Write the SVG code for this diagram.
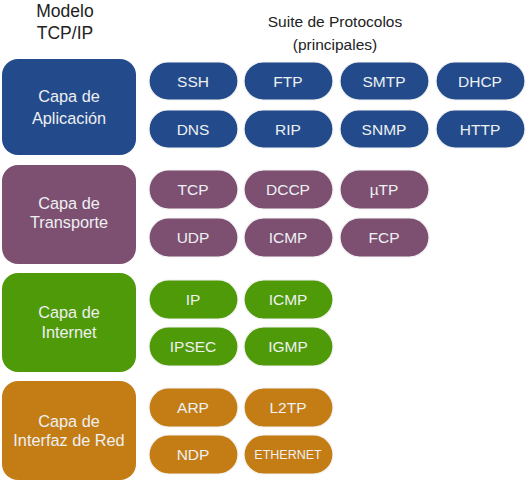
<svg xmlns="http://www.w3.org/2000/svg" width="531" height="480" viewBox="0 0 531 480">
<style>
text{font-family:"Liberation Sans",Arial,sans-serif;font-size:15.5px;text-anchor:middle}
.t{fill:#222}
.big{font-size:17.5px}
.box{font-size:16.3px}
.app{fill:#234b8b}
.tra{fill:#7d5072}
.int{fill:#4f9a08}
.red{fill:#c47d15}
.p{stroke:#f2f2f2;stroke-width:1.2}
.l{fill:#eef0f2}
</style>
<rect width="531" height="480" fill="#fff"/>
<g id="titles">
<text class="t big" x="65" y="17">Modelo</text>
<text class="t big" x="65" y="39">TCP/IP</text>
<text class="t" x="335" y="27">Suite de Protocolos</text>
<text class="t" x="335" y="50">(principales)</text>
</g>
<g id="layer-app">
<rect class="app" x="2" y="59" width="134" height="96" rx="16"/>
<text class="l box" x="69" y="102">Capa de</text>
<text class="l box" x="69" y="124">Aplicación</text>
</g>
<g id="layer-tra">
<rect class="tra" x="2" y="165" width="134" height="99" rx="16"/>
<text class="l box" x="69" y="209">Capa de</text>
<text class="l box" x="69" y="228">Transporte</text>
</g>
<g id="layer-int">
<rect class="int" x="2" y="273" width="134" height="99" rx="16"/>
<text class="l box" x="69" y="318">Capa de</text>
<text class="l box" x="69" y="338">Internet</text>
</g>
<g id="layer-red">
<rect class="red" x="2" y="381" width="134" height="99" rx="16"/>
<text class="l box" x="69" y="427">Capa de</text>
<text class="l box" x="69" y="446">Interfaz de Red</text>
</g>
<g id="p-ssh"><rect class="app p" x="149" y="62" width="89" height="38" rx="19"/><text class="l" x="193" y="87">SSH</text></g>
<g id="p-ftp"><rect class="app p" x="244" y="62" width="89" height="38" rx="19"/><text class="l" x="288" y="87">FTP</text></g>
<g id="p-smtp"><rect class="app p" x="340" y="62" width="89" height="38" rx="19"/><text class="l" x="384" y="87">SMTP</text></g>
<g id="p-dhcp"><rect class="app p" x="436" y="62" width="89" height="38" rx="19"/><text class="l" x="480" y="87">DHCP</text></g>
<g id="p-dns"><rect class="app p" x="149" y="110" width="89" height="38" rx="19"/><text class="l" x="193" y="135">DNS</text></g>
<g id="p-rip"><rect class="app p" x="244" y="110" width="89" height="38" rx="19"/><text class="l" x="288" y="135">RIP</text></g>
<g id="p-snmp"><rect class="app p" x="340" y="110" width="89" height="38" rx="19"/><text class="l" x="384" y="135">SNMP</text></g>
<g id="p-http"><rect class="app p" x="436" y="110" width="89" height="38" rx="19"/><text class="l" x="480" y="135">HTTP</text></g>
<g id="p-tcp"><rect class="tra p" x="149" y="170" width="89" height="39" rx="19.5"/><text class="l" x="193" y="195">TCP</text></g>
<g id="p-dccp"><rect class="tra p" x="244" y="170" width="89" height="39" rx="19.5"/><text class="l" x="288" y="195">DCCP</text></g>
<g id="p-utp"><rect class="tra p" x="340" y="170" width="89" height="39" rx="19.5"/><text class="l" x="384" y="195">µTP</text></g>
<g id="p-udp"><rect class="tra p" x="149" y="218" width="89" height="39" rx="19.5"/><text class="l" x="193" y="243">UDP</text></g>
<g id="p-icmp1"><rect class="tra p" x="244" y="218" width="89" height="39" rx="19.5"/><text class="l" x="288" y="243">ICMP</text></g>
<g id="p-fcp"><rect class="tra p" x="340" y="218" width="89" height="39" rx="19.5"/><text class="l" x="384" y="243">FCP</text></g>
<g id="p-ip"><rect class="int p" x="149" y="280" width="89" height="39" rx="19.5"/><text class="l" x="193" y="305">IP</text></g>
<g id="p-icmp2"><rect class="int p" x="244" y="280" width="89" height="39" rx="19.5"/><text class="l" x="288" y="305">ICMP</text></g>
<g id="p-ipsec"><rect class="int p" x="149" y="327" width="89" height="39" rx="19.5"/><text class="l" x="193" y="352">IPSEC</text></g>
<g id="p-igmp"><rect class="int p" x="244" y="327" width="89" height="39" rx="19.5"/><text class="l" x="288" y="352">IGMP</text></g>
<g id="p-arp"><rect class="red p" x="149" y="388" width="89" height="39" rx="19.5"/><text class="l" x="193" y="413">ARP</text></g>
<g id="p-l2tp"><rect class="red p" x="244" y="388" width="89" height="39" rx="19.5"/><text class="l" x="288" y="413">L2TP</text></g>
<g id="p-ndp"><rect class="red p" x="149" y="435" width="89" height="39" rx="19.5"/><text class="l" x="193" y="460">NDP</text></g>
<g id="p-eth"><rect class="red p" x="244" y="435" width="89" height="39" rx="19.5"/><text class="l" x="288" y="459" style="font-size:12.5px">ETHERNET</text></g>
<g id="connectors"/>
</svg>
